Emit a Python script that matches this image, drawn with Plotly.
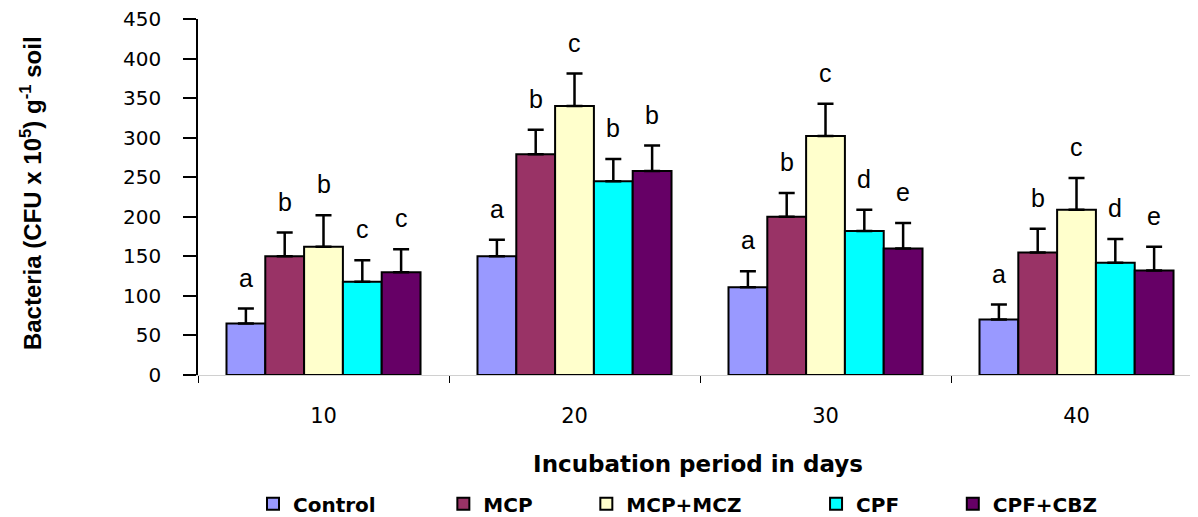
import plotly.graph_objects as go

days = ["10", "20", "30", "40"]
treatments = ["Control", "MCP", "MCP+MCZ", "CPF", "CPF+CBZ"]

control = [65, 150, 111, 70]
control_err = [19, 21, 20, 19]
mcp = [150, 279, 200, 155]
mcp_err = [30, 31, 30, 30]
mcp_mcz = [162, 340, 302, 209]
mcp_mcz_err = [40, 41, 41, 40]
cpf = [118, 245, 182, 142]
cpf_err = [27, 28, 27, 30]
cpf_cbz = [130, 258, 160, 132]
cpf_cbz_err = [29, 32, 32, 30]

control_letters = ["a", "a", "a", "a"]
mcp_letters = ["b", "b", "b", "b"]
mcp_mcz_letters = ["b", "c", "c", "c"]
cpf_letters = ["c", "b", "d", "d"]
cpf_cbz_letters = ["c", "b", "e", "e"]

colors = ["#9999FF", "#993366", "#FFFFCC", "#00FFFF", "#660066"]
# invisible trailing padding to widen legend entries like the original
legend_pad = [9, 7, 10, 7, 0]

series = [
    (control, control_err, control_letters),
    (mcp, mcp_err, mcp_letters),
    (mcp_mcz, mcp_mcz_err, mcp_mcz_letters),
    (cpf, cpf_err, cpf_letters),
    (cpf_cbz, cpf_cbz_err, cpf_cbz_letters),
]

BARGAP = 0.227
fig = go.Figure()
for name, color, pad, (vals, errs, _) in zip(treatments, colors, legend_pad, series):
    fig.add_trace(go.Bar(
        name=name + "\u00a0" * pad, x=days, y=vals,
        marker=dict(color=color, line=dict(color="black", width=2)),
        error_y=dict(type="data", array=errs, symmetric=False, arrayminus=[0] * len(errs),
                     color="black", thickness=2.5, width=8),
    ))

# significance letters above the error bars
n = len(treatments)
bw = (1 - BARGAP) / n
for j, (vals, errs, letters) in enumerate(series):
    for i, (v, e, L) in enumerate(zip(vals, errs, letters)):
        fig.add_annotation(
            x=i + (j - (n - 1) / 2) * bw, y=v + e, xref="x", yref="y",
            text=L, showarrow=False, yanchor="bottom", yshift=15,
            font=dict(family="Liberation Sans, Arial", size=25, color="black"),
        )

fig.add_annotation(
    x=-0.167, y=0.511, xref="paper", yref="paper", xanchor="center", yanchor="middle",
    text="<b>Bacteria (CFU x 10<sup>5</sup>) g<sup>-1</sup> soil</b>", textangle=-90,
    showarrow=False, font=dict(family="Liberation Sans, Arial", size=24, color="black"),
)

fig.update_layout(
    width=1190, height=509,
    margin=dict(l=190, r=0, t=11, b=142),
    paper_bgcolor="white", plot_bgcolor="white",
    barmode="group", bargap=BARGAP, bargroupgap=0,
    showlegend=True,
    legend=dict(orientation="h", x=0.055, xanchor="left",
                yref="container", y=0.026, yanchor="middle",
                font=dict(family="DejaVu Sans", size=20, color="black", weight="bold"),
                itemsizing="constant"),
    xaxis=dict(
        type="category", range=[-0.5, 3.484],
        showline=True, linecolor="#d0d0d0", linewidth=1,
        ticks="outside", tickson="boundaries", ticklen=7, tickcolor="black", tickwidth=1,
        tickfont=dict(family="DejaVu Sans", size=21, color="black"),
        ticklabelstandoff=22,
        showgrid=False, zeroline=False,
        title=dict(text="Incubation period in days", standoff=28,
                   font=dict(family="DejaVu Sans", size=23, color="black", weight="bold")),
    ),
    yaxis=dict(
        range=[0, 450], tickmode="linear", tick0=0, dtick=50,
        showline=True, linecolor="black", linewidth=1.5,
        ticks="outside", ticklen=13, tickcolor="black", tickwidth=1.5,
        tickfont=dict(family="DejaVu Sans", size=20, color="black"),
        ticklabelstandoff=18, ticklabeloverflow="allow",
        showgrid=False, zeroline=False,
    ),
)

fig.write_html("out.html")
